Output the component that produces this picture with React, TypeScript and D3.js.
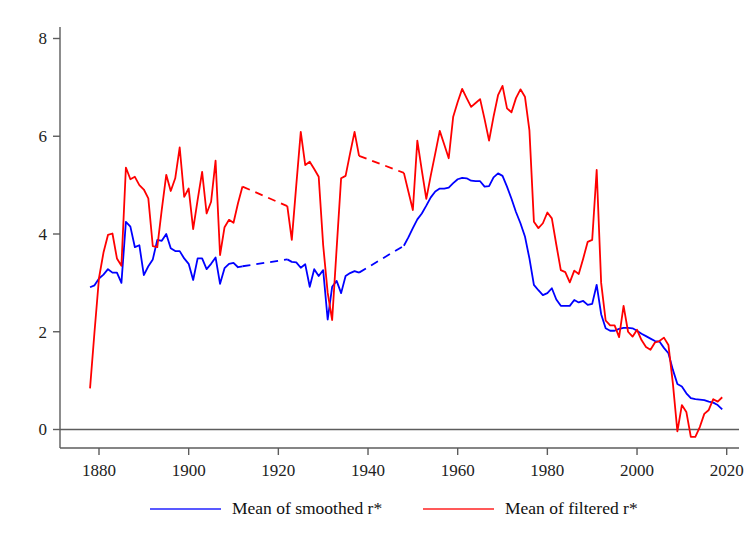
import React from "react";
import * as d3 from "d3";

// Annual observations, 1878–2019; null marks years without an estimate
const startYear = 1878;

const smoothed: (number | null)[] = [
  // 1878–1889
  2.91, 2.95, 3.09, 3.17, 3.28, 3.21, 3.21, 3.0, 4.25, 4.15, 3.73, 3.77,
  // 1890–1899
  3.16, 3.34, 3.48, 3.88, 3.86, 4.0, 3.71, 3.65, 3.65, 3.5,
  // 1900–1909
  3.39, 3.06, 3.5, 3.5, 3.28, 3.39, 3.52, 2.98, 3.3, 3.39,
  // 1910–1919
  3.41, 3.32, 3.34, null, null, null, null, null, null, null,
  // 1920–1929
  null, null, 3.48, 3.43, 3.42, 3.31, 3.38, 2.92, 3.28, 3.14,
  // 1930–1939
  3.26, 2.25, 2.92, 3.04, 2.79, 3.14, 3.2, 3.24, 3.21, null,
  // 1940–1949
  null, null, null, null, null, null, null, null, 3.76, 3.93,
  // 1950–1959
  4.12, 4.3, 4.42, 4.58, 4.75, 4.87, 4.93, 4.93, 4.95, 5.04,
  // 1960–1969
  5.12, 5.15, 5.14, 5.09, 5.08, 5.08, 4.97, 4.98, 5.16, 5.24,
  // 1970–1979
  5.19, 4.97, 4.72, 4.45, 4.22, 3.95, 3.5, 2.96, 2.85, 2.75,
  // 1980–1989
  2.79, 2.89, 2.66, 2.53, 2.53, 2.53, 2.65, 2.6, 2.63, 2.55,
  // 1990–1999
  2.57, 2.96, 2.36, 2.07, 2.02, 2.02, 2.06, 2.08, 2.08, 2.07,
  // 2000–2009
  2.02, 1.96, 1.91, 1.86, 1.81, 1.8, 1.67, 1.56, 1.22, 0.93,
  // 2010–2019
  0.88, 0.74, 0.64, 0.62, 0.61, 0.6, 0.57, 0.55, 0.5, 0.41,
];

const filtered: (number | null)[] = [
  // 1878–1889
  0.84, 2.0, 3.1, 3.62, 3.98, 4.01, 3.5, 3.35, 5.36, 5.12, 5.17, 5.0,
  // 1890–1899
  4.91, 4.73, 3.75, 3.73, 4.5, 5.21, 4.88, 5.14, 5.77, 4.76,
  // 1900–1909
  4.93, 4.1, 4.7, 5.27, 4.42, 4.66, 5.5, 3.57, 4.14, 4.29,
  // 1910–1919
  4.23, 4.63, 4.97, null, null, null, null, null, null, null,
  // 1920–1929
  null, null, 4.57, 3.88, 5.0, 6.09, 5.41, 5.48, 5.33, 5.17,
  // 1930–1939
  3.77, 2.8, 2.24, 3.7, 5.14, 5.19, 5.65, 6.09, 5.6, null,
  // 1940–1949
  null, null, null, null, null, null, null, null, 5.25, 4.87,
  // 1950–1959
  4.49, 5.91, 5.3, 4.72, 5.2, 5.65, 6.11, 5.83, 5.55, 6.4,
  // 1960–1969
  6.7, 6.97, 6.78, 6.6, 6.68, 6.76, 6.35, 5.91, 6.4, 6.84,
  // 1970–1979
  7.03, 6.57, 6.49, 6.78, 6.96, 6.81, 6.12, 4.25, 4.12, 4.22,
  // 1980–1989
  4.44, 4.32, 3.78, 3.26, 3.22, 3.01, 3.25, 3.18, 3.5, 3.84,
  // 1990–1999
  3.88, 5.31, 3.0, 2.23, 2.13, 2.13, 1.89, 2.53, 2.0, 1.9,
  // 2000–2009
  2.04, 1.83, 1.69, 1.63, 1.78, 1.81, 1.88, 1.73, 0.94, -0.04,
  // 2010–2019
  0.5, 0.36, -0.15, -0.15, 0.05, 0.32, 0.4, 0.62, 0.57, 0.66,
];

const xTicks = [1880, 1900, 1920, 1940, 1960, 1980, 2000, 2020];
const yTicks = [0, 2, 4, 6, 8];

const seriesNames = ["Mean of smoothed r*", "Mean of filtered r*"];
const seriesColors = ["#0000ff", "#ff0000"];

type Pt = { year: number; value: number | null };

const toPoints = (vals: (number | null)[]): Pt[] =>
  vals.map((v, i) => ({ year: startYear + i, value: v }));

// Pairs of defined points that enclose a run of missing years
function gapBridges(pts: Pt[]): [Pt, Pt][] {
  const out: [Pt, Pt][] = [];
  let last: Pt | null = null;
  let inGap = false;
  for (const p of pts) {
    if (p.value === null) {
      if (last) inGap = true;
    } else {
      if (inGap && last) out.push([last, p]);
      last = p;
      inGap = false;
    }
  }
  return out;
}

const W = 746;
const H = 548;
const axisLeft = 60;
const axisRight = 739;
const axisBottom = 448;
const axisTop = 27;

const x = d3.scaleLinear().domain([1880, 2020]).range([99, 726.7]);
const y = d3.scaleLinear().domain([0, 8]).range([429.5, 38.5]);

const font = "'Liberation Serif', 'Times New Roman', serif";
const axisColor = "#5c5c5c";
const textColor = "#222";

export default function App() {
  const line = d3
    .line<Pt>()
    .defined((d) => d.value !== null)
    .x((d) => x(d.year))
    .y((d) => y(d.value as number));

  const all = [toPoints(smoothed), toPoints(filtered)];

  return (
    <svg
      width={W}
      height={H}
      viewBox={`0 0 ${W} ${H}`}
      style={{ position: "absolute", left: 0, top: 0, background: "#fff" }}
    >
      <rect x={0} y={0} width={W} height={H} fill="#fff" />

      {/* y axis */}
      <line x1={axisLeft} x2={axisLeft} y1={axisTop} y2={axisBottom} stroke={axisColor} strokeWidth={1.4} />
      {yTicks.map((t) => (
        <g key={`y${t}`}>
          <line x1={axisLeft - 7} x2={axisLeft} y1={y(t)} y2={y(t)} stroke={axisColor} strokeWidth={1.4} />
          <text
            x={axisLeft - 13}
            y={y(t)}
            dy="0.34em"
            textAnchor="end"
            fontFamily={font}
            fontSize={17}
            fill={textColor}
          >
            {t}
          </text>
        </g>
      ))}

      {/* x axis */}
      <line x1={axisLeft} x2={axisRight} y1={axisBottom} y2={axisBottom} stroke={axisColor} strokeWidth={1.4} />
      {xTicks.map((t) => (
        <g key={`x${t}`}>
          <line x1={x(t)} x2={x(t)} y1={axisBottom} y2={axisBottom + 7} stroke={axisColor} strokeWidth={1.4} />
          <text
            x={x(t)}
            y={axisBottom + 28}
            textAnchor="middle"
            fontFamily={font}
            fontSize={17}
            fill={textColor}
          >
            {t}
          </text>
        </g>
      ))}

      {/* zero reference line */}
      <line x1={axisLeft} x2={axisRight} y1={y(0)} y2={y(0)} stroke={axisColor} strokeWidth={1.4} />

      {/* series */}
      {all.map((pts, i) => (
        <g key={seriesNames[i]}>
          <path d={line(pts) ?? ""} fill="none" stroke={seriesColors[i]} strokeWidth={1.8} strokeLinejoin="round" />
          {gapBridges(pts).map(([a, b], j) => (
            <line
              key={j}
              x1={x(a.year)}
              y1={y(a.value as number)}
              x2={x(b.year)}
              y2={y(b.value as number)}
              stroke={seriesColors[i]}
              strokeWidth={1.8}
              strokeDasharray="8 6"
            />
          ))}
        </g>
      ))}

      {/* legend */}
      {seriesNames.map((name, i) => {
        const lx = [150, 423][i];
        return (
          <g key={`leg${i}`}>
            <line x1={lx} x2={lx + 71} y1={509} y2={509} stroke={seriesColors[i]} strokeOpacity={0.65} strokeWidth={2} />
            <text x={lx + 82} y={514} fontFamily={font} fontSize={17.5} fill="#111">
              {name}
            </text>
          </g>
        );
      })}
    </svg>
  );
}
